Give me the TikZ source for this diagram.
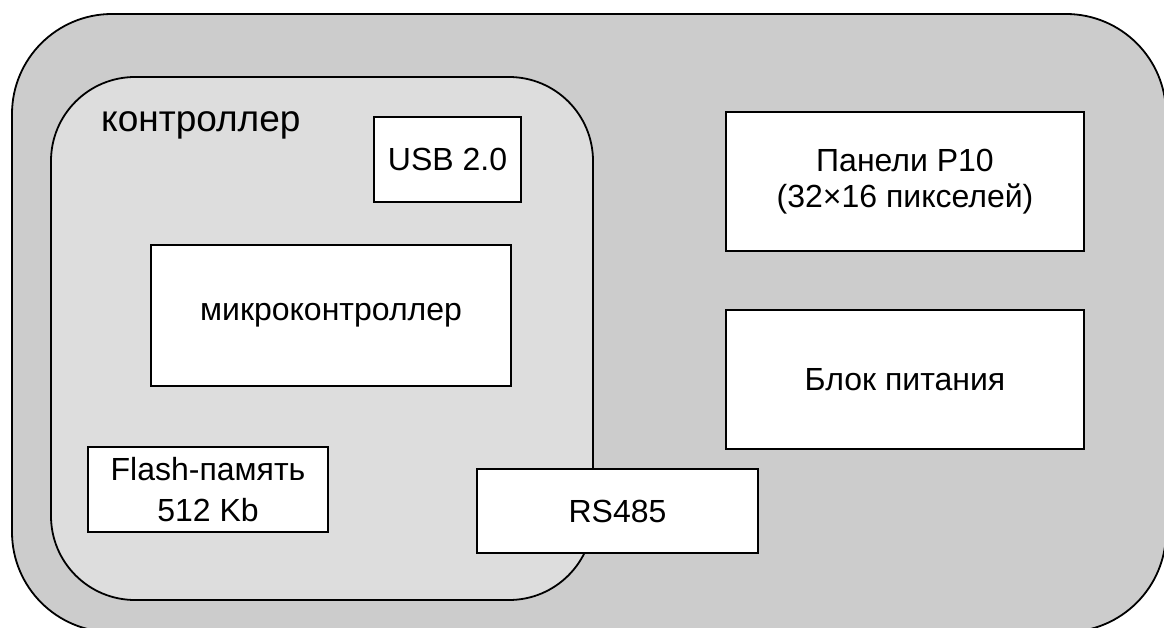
\documentclass[tikz,border=0pt]{standalone}
\usepackage{fontspec}
\setmainfont{Liberation Sans}
\definecolor{korpusgray}{HTML}{CCCCCC}
\definecolor{ctrlgray}{HTML}{DDDDDD}
\tikzset{
  blok/.style={draw=black, fill=white, line width=1.6pt, align=center, inner sep=0pt},
  oblast/.style={draw=black, line width=1.8pt, inner sep=0pt},
}
\begin{document}
\begin{tikzpicture}[x=1pt,y=-1pt]
	\fontsize{32}{36}\selectfont
	\useasboundingbox (0,0) rectangle (1164,628);
	% корпус
	\node [oblast, fill=korpusgray, rounded corners=100pt, minimum width=1154pt, minimum height=618pt] (korpus) at (589,323) {};
	% контроллер
	\node [oblast, fill=ctrlgray, rounded corners=84pt, minimum width=542pt, minimum height=523pt] (ctrl) at (322,338.5) {};
	\node [anchor=base west, inner sep=0pt, font=\fontsize{37}{42}\selectfont] (ctrltxt) at (101,132) {контроллер};
	\node [blok, minimum width=147pt, minimum height=85pt] (usb) at (447.5,159.5) {USB 2.0};
	\node [blok, minimum width=360pt, minimum height=141pt] (mk) at (331,315.5) {микроконтроллер};
	\node [blok, minimum width=240pt, minimum height=85pt, font=\fontsize{32}{41}\selectfont] (flash) at (208,489.5) {Flash-память\\512 Kb};
	\node [blok, minimum width=281pt, minimum height=84pt] (rs) at (617.5,511) {RS485};
	% справа
	\node [blok, minimum width=358pt, minimum height=139pt] (panel) at (905,181.5) {Панели P10\\(32×16 пикселей)};
	\node [blok, minimum width=358pt, minimum height=139pt] (pitanie) at (905,379.5) {Блок питания};
\end{tikzpicture}
\end{document}
